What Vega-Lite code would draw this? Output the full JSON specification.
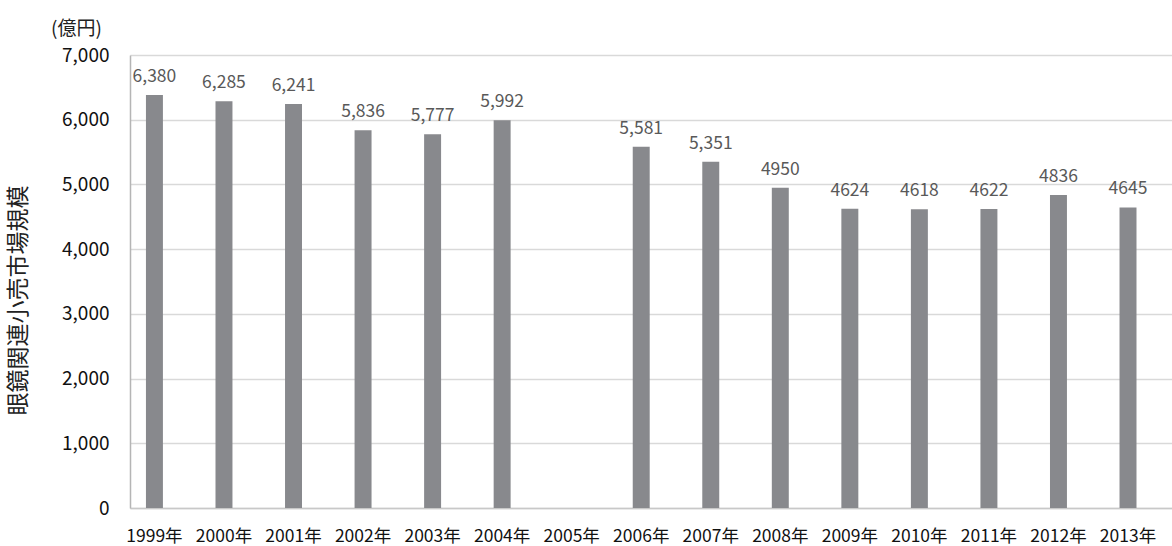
{
  "$schema": "https://vega.github.io/schema/vega-lite/v6.json",
  "width": 1042,
  "height": 453,
  "autosize": {"type": "none"},
  "padding": {"left": 130, "top": 55, "right": 0, "bottom": 38},
  "background": "white",
  "title": {
    "text": "(億円)",
    "anchor": "start",
    "frame": "group",
    "orient": "top",
    "font": "Noto Sans CJK JP",
    "fontSize": 19,
    "fontWeight": "normal",
    "color": "#222222",
    "dx": -79,
    "offset": 7
  },
  "config": {
    "font": "Noto Sans CJK JP",
    "view": {"stroke": null},
    "axis": {"grid": false}
  },
  "data": {
    "values": [
      {"year": "1999年", "value": 6380, "label": "6,380"},
      {"year": "2000年", "value": 6285, "label": "6,285"},
      {"year": "2001年", "value": 6241, "label": "6,241"},
      {"year": "2002年", "value": 5836, "label": "5,836"},
      {"year": "2003年", "value": 5777, "label": "5,777"},
      {"year": "2004年", "value": 5992, "label": "5,992"},
      {"year": "2005年", "value": null, "label": null},
      {"year": "2006年", "value": 5581, "label": "5,581"},
      {"year": "2007年", "value": 5351, "label": "5,351"},
      {"year": "2008年", "value": 4950, "label": "4950"},
      {"year": "2009年", "value": 4624, "label": "4624"},
      {"year": "2010年", "value": 4618, "label": "4618"},
      {"year": "2011年", "value": 4622, "label": "4622"},
      {"year": "2012年", "value": 4836, "label": "4836"},
      {"year": "2013年", "value": 4645, "label": "4645"}
    ]
  },
  "encoding": {
    "x": {
      "field": "year",
      "type": "nominal",
      "sort": null,
      "scale": {
        "domain": ["1999年", "2000年", "2001年", "2002年", "2003年", "2004年", "2005年", "2006年", "2007年", "2008年", "2009年", "2010年", "2011年", "2012年", "2013年"],
        "paddingInner": 0.756,
        "paddingOuter": 0.37,
        "align": 0.31
      },
      "axis": {
        "title": null,
        "labelAngle": 0,
        "labelFontSize": 17.5,
        "labelColor": "#111111",
        "labelPadding": 19,
        "ticks": false,
        "domainColor": "#c8c8c8",
        "domainWidth": 1.5
      }
    }
  },
  "layer": [
    {
      "mark": {"type": "bar", "color": "#88898d"},
      "encoding": {
        "y": {
          "field": "value",
          "type": "quantitative",
          "scale": {"domain": [0, 7000], "nice": false},
          "axis": {
            "values": [0, 1000, 2000, 3000, 4000, 5000, 6000, 7000],
            "format": ",d",
            "grid": true,
            "gridColor": "#d9d9d9",
            "gridWidth": 1.5,
            "ticks": false,
            "domain": true,
            "domainColor": "#b5b5b5",
            "domainWidth": 1.5,
            "labelFontSize": 19,
            "labelColor": "#111111",
            "labelPadding": 21,
            "title": "眼鏡関連小売市場規模",
            "titleFontSize": 23,
            "titleFontWeight": "normal",
            "titleColor": "#222222",
            "titleAngle": -90,
            "titleX": -112,
            "titleY": 245,
            "titleAlign": "center",
            "titleBaseline": "middle"
          }
        }
      }
    },
    {
      "mark": {"type": "text", "baseline": "alphabetic", "dy": -13, "fontSize": 17.5, "color": "#595959"},
      "encoding": {
        "y": {"field": "value", "type": "quantitative"},
        "text": {"field": "label", "type": "nominal"}
      }
    }
  ]
}
